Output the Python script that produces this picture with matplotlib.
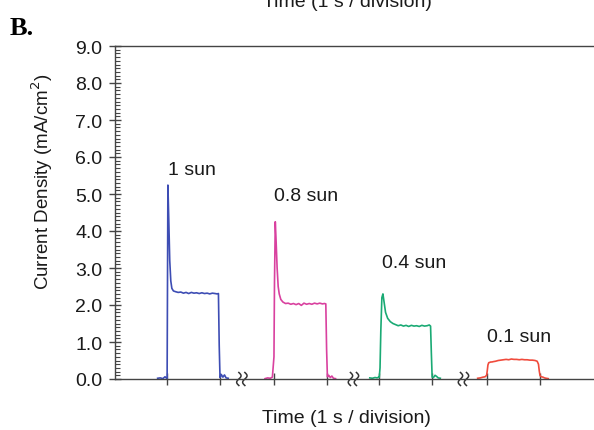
import numpy as np
import matplotlib
matplotlib.use("Agg")
import matplotlib.pyplot as plt
from matplotlib.ticker import MultipleLocator, FixedLocator

plt.rcParams['font.family'] = ['Liberation Sans', 'DejaVu Sans']

# time relative to light-on (s), shared by all four transients
t_rel = [-0.18, -0.13, -0.08, -0.04, -0.01, 0.0, 0.015, 0.03, 0.05, 0.07,
         0.09, 0.12, 0.16, 0.21, 0.26, 0.31, 0.36, 0.41, 0.46, 0.51,
         0.56, 0.61, 0.66, 0.71, 0.76, 0.81, 0.86, 0.91, 0.95, 0.975,
         0.99, 1.005, 1.03, 1.06, 1.09, 1.12, 1.16]

# current density (mA/cm2)
j_1sun = [0.02, 0.03, 0.01, 0.06, 0.02, 0.0, 5.24, 4.4, 3.2, 2.65,
          2.45, 2.38, 2.36, 2.34, 2.35, 2.32, 2.34, 2.31, 2.34, 2.32,
          2.33, 2.31, 2.33, 2.31, 2.32, 2.30, 2.32, 2.31, 2.30, 2.31,
          0.9, 0.04, 0.12, 0.05, 0.11, 0.03, 0.02]
j_08sun = [0.01, 0.03, 0.02, 0.05, 0.6, 2.6, 4.25, 3.75, 3.0, 2.5,
           2.3, 2.15, 2.08, 2.04, 2.05, 2.02, 2.04, 2.01, 2.04, 1.99,
           2.05, 2.02, 2.04, 2.02, 2.05, 2.03, 2.05, 2.03, 2.04, 2.03,
           0.8, 0.06, 0.1, 0.04, 0.08, 0.02, 0.01]
j_04sun = [0.03, 0.02, 0.04, 0.03, 0.05, 0.04, 0.3, 1.3, 2.2, 2.30,
           2.1, 1.8, 1.64, 1.55, 1.5, 1.47, 1.44, 1.46, 1.43, 1.45,
           1.42, 1.45, 1.43, 1.44, 1.42, 1.45, 1.43, 1.44, 1.46, 1.43,
           0.7, 0.05, 0.04, 0.1, 0.07, 0.03, 0.02]
j_01sun = [0.02, 0.03, 0.05, 0.06, 0.1, 0.2, 0.38, 0.44, 0.45, 0.46,
           0.46, 0.47, 0.48, 0.50, 0.51, 0.52, 0.53, 0.52, 0.54, 0.53,
           0.53, 0.52, 0.53, 0.52, 0.52, 0.51, 0.51, 0.50, 0.48, 0.4,
           0.22, 0.09, 0.06, 0.05, 0.03, 0.02, 0.01]

labels = ["1 sun", "0.8 sun", "0.4 sun", "0.1 sun"]
on_times = [0.99, 3.03, 5.02, 7.07]
off_times = [1.99, 4.03, 6.02, 8.07]
break_times = [2.41, 4.53, 6.62]
label_pos = [(1.0, 5.65), (3.03, 4.95), (5.08, 3.15), (7.07, 1.15)]
colors = ["#3d4db4", "#d9419f", "#1aaa74", "#f04b3c"]

fig = plt.figure(figsize=(5.94, 4.31), dpi=100)
ax = fig.add_axes([115/594, 1 - 380/431, 479/594, 333/431])

for on, j, c in zip(on_times, [j_1sun, j_08sun, j_04sun, j_01sun], colors):
    ax.plot(np.array(t_rel) + on, j, color=c, lw=1.2, clip_on=False)

for (x, y), lab in zip(label_pos, labels):
    ax.text(x, y, lab, fontsize=14, color="#1a1a1a", ha="left", va="center")

# axis break squiggles
sx = 9.1 / 479
sy = 9.0 / 333
yy = np.linspace(-6.5, 6.5, 30)
for b in break_times:
    for off in (-3.0, 3.0):
        xx = off + 2.2 * np.sin(np.pi * yy / 6.5)
        ax.plot(b + xx * sx, yy * sy, color="#333333", lw=1.1, clip_on=False)

ax.set_xlim(0, 9.1)
ax.set_ylim(0, 9.0)
ax.spines['right'].set_visible(False)
for s in ('left', 'bottom', 'top'):
    ax.spines[s].set_color("#444444")
    ax.spines[s].set_linewidth(1.0)

ax.yaxis.set_major_locator(MultipleLocator(1.0))
ax.yaxis.set_minor_locator(MultipleLocator(0.1))
ax.set_yticklabels([f"{v:.1f}" for v in ax.get_yticks()])
ax.tick_params(axis='y', which='major', direction='inout', length=8,
               width=1.0, color="#444444", labelsize=14, pad=5,
               labelcolor="#1a1a1a")
ax.tick_params(axis='y', which='minor', direction='in', length=3.5,
               width=0.8, color="#444444")
ax.xaxis.set_major_locator(FixedLocator(sorted(on_times + off_times)))
ax.tick_params(axis='x', which='major', direction='inout', length=8,
               width=1.0, color="#444444", labelbottom=False)

ax.set_ylabel("Current Density (mA/cm$^2$)", fontsize=13.5, color="#1a1a1a")
ax.yaxis.set_label_coords(-0.125, 0.595)
ax.set_xlabel("Time (1 s / division)", fontsize=14, color="#1a1a1a")
ax.xaxis.set_label_coords(0.484, -0.09)

fig.text(10/594, 1 - 35/431, "B.", fontsize=19, fontweight="bold",
         family="Liberation Serif", va="baseline")
fig.text(347/594, 1 - 7/431, "Time (1 s / division)", fontsize=14,
         color="#1a1a1a", ha="center", va="baseline")

fig.savefig("out.png", dpi=100)
